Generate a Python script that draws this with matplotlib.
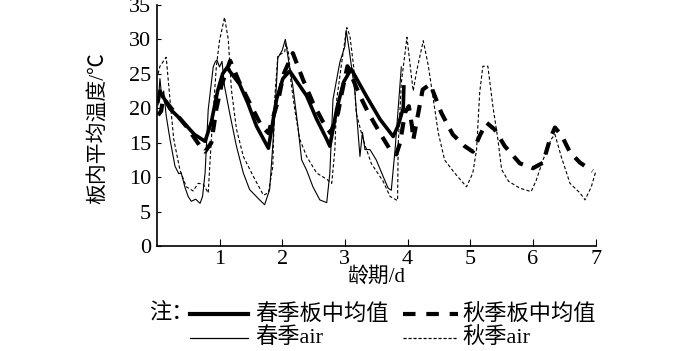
import matplotlib
matplotlib.use("Agg")
import matplotlib.pyplot as plt
from matplotlib.lines import Line2D

plt.rcParams['font.family'] = ['Liberation Serif', 'Noto Sans CJK SC']
plt.rcParams['axes.unicode_minus'] = False

# spring, plate mean (thick solid)
spring_mean_x = [0.02, 0.05, 0.21, 0.38, 0.6, 0.77, 0.87, 0.97, 1.05, 1.12, 1.32, 1.45, 1.59, 1.78,
                 1.91, 2.01, 2.12, 2.39, 2.55, 2.71, 2.76, 2.87, 2.98, 3.1, 3.34, 3.56, 3.77, 3.85, 3.93, 3.94]
spring_mean_y = [21.0, 22.5, 19.9, 18.4, 16.2, 15.2, 18.0, 22.5, 25.0, 25.9, 23.5, 20.8, 17.4, 14.2,
                 21.3, 24.3, 25.4, 21.8, 18.4, 15.5, 14.5, 19.9, 23.8, 25.7, 21.8, 18.4, 15.9, 17.5, 20.0, 23.1]

# autumn, plate mean (thick dashed)
autumn_mean_x = [0.02, 0.07, 0.1, 0.23, 0.47, 0.69, 0.77, 0.87, 0.95, 1.03, 1.17, 1.32, 1.48, 1.67, 1.78,
                 1.94, 2.02, 2.17, 2.33, 2.49, 2.64, 2.77, 2.89, 2.95, 3.04, 3.24, 3.37, 3.56, 3.72, 3.82,
                 3.88, 3.96, 4.02, 4.07, 4.09, 4.17, 4.24, 4.36, 4.54, 4.72, 4.91, 5.04, 5.16, 5.26, 5.39,
                 5.55, 5.79, 6.0, 6.16, 6.27, 6.35, 6.46, 6.59, 6.75, 6.95]
autumn_mean_y = [19.0, 19.6, 21.5, 20.0, 17.4, 14.5, 13.7, 15.0, 19.9, 23.3, 26.9, 23.7, 20.8, 17.4, 16.4,
                 21.3, 24.9, 28.0, 24.2, 20.8, 18.2, 16.4, 19.3, 22.2, 26.1, 21.8, 19.4, 16.4, 14.0, 13.3,
                 15.0, 19.4, 20.3, 17.4, 15.4, 19.3, 22.7, 23.5, 19.3, 16.2, 14.5, 13.7, 16.2, 17.9, 16.9,
                 14.5, 12.0, 11.3, 12.1, 15.5, 17.2, 16.0, 13.6, 12.1, 10.9]

# spring air (thin solid)
spring_air_x = [0.02, 0.05, 0.08, 0.11, 0.15, 0.21, 0.29, 0.35, 0.39, 0.45, 0.5, 0.55, 0.62, 0.69, 0.73,
                0.77, 0.82, 0.87, 0.9, 0.93, 0.96, 1.0, 1.04, 1.08, 1.16, 1.27, 1.38, 1.48, 1.64, 1.72,
                1.8, 1.85, 1.91, 1.93, 2.0, 2.05, 2.1, 2.17, 2.25, 2.31, 2.39, 2.49, 2.6, 2.71, 2.76,
                2.81, 2.92, 3.0, 3.02, 3.07, 3.16, 3.24, 3.28, 3.32, 3.4, 3.5, 3.61, 3.69, 3.74, 3.8,
                3.85, 3.9]
spring_air_y = [20.5, 24.3, 21.5, 22.5, 18.9, 15.5, 11.6, 10.5, 10.6, 8.5, 7.2, 6.5, 6.8, 6.2, 7.2,
                10.6, 19.8, 23.7, 26.0, 26.7, 27.0, 26.0, 26.8, 23.2, 19.4, 14.5, 10.6, 8.2, 6.7, 6.0,
                8.2, 14.6, 23.7, 27.3, 28.4, 30.0, 27.0, 23.2, 17.4, 12.5, 11.0, 8.6, 6.7, 6.3, 10.6,
                21.3, 26.7, 29.0, 31.3, 28.4, 22.3, 13.0, 16.5, 14.0, 14.0, 12.5, 10.1, 8.4, 8.1, 14.0,
                20.0, 26.0]

# autumn air (thin dashed)
autumn_air_x = [0.02, 0.05, 0.15, 0.21, 0.27, 0.37, 0.47, 0.58, 0.66, 0.74, 0.82, 0.87, 0.95, 1.0, 1.08,
                1.14, 1.19, 1.27, 1.38, 1.54, 1.7, 1.78, 1.85, 1.88, 1.93, 2.04, 2.06, 2.1, 2.14, 2.2,
                2.28, 2.39, 2.55, 2.71, 2.79, 2.84, 2.87, 2.95, 3.03, 3.08, 3.14, 3.18, 3.29, 3.42, 3.61,
                3.72, 3.84, 3.85, 3.9, 3.99, 4.06, 4.09, 4.14, 4.25, 4.33, 4.41, 4.49, 4.59, 4.75, 4.94,
                5.04, 5.1, 5.15, 5.2, 5.28, 5.36, 5.44, 5.5, 5.61, 5.79, 5.97, 6.05, 6.16, 6.29, 6.35,
                6.45, 6.59, 6.75, 6.83, 6.93, 7.0]
autumn_air_y = [25.0, 26.1, 27.4, 21.3, 15.5, 11.0, 8.6, 8.0, 9.1, 9.0, 7.7, 15.5, 26.1, 29.8, 33.2,
                30.0, 22.7, 17.0, 13.0, 10.1, 7.4, 7.7, 11.5, 21.3, 27.6, 28.2, 29.4, 28.0, 23.8, 19.8,
                15.5, 13.0, 10.6, 9.7, 9.1, 14.0, 21.3, 26.7, 31.7, 30.5, 26.0, 19.3, 15.5, 12.0, 9.4,
                7.2, 6.6, 14.7, 23.7, 30.3, 24.7, 22.5, 25.2, 29.8, 26.2, 21.3, 16.4, 12.5, 10.6, 8.6,
                10.6, 14.0, 22.3, 26.1, 26.1, 20.3, 15.5, 11.1, 9.4, 8.4, 7.9, 9.5, 12.5, 15.5, 16.2,
                13.0, 9.1, 7.7, 6.7, 8.6, 10.8]

x_ticks = [1, 2, 3, 4, 5, 6, 7]
y_ticks = [0, 5, 10, 15, 20, 25, 30, 35]

fig = plt.figure(figsize=(7.0, 3.51), dpi=100)
ax = fig.add_axes([0.224, 0.299, 0.627, 0.687])

ax.plot(spring_air_x, spring_air_y, color='black', lw=0.8)
ax.plot(autumn_air_x, autumn_air_y, color='black', lw=0.8, dashes=(3, 2))
ax.plot(spring_mean_x, spring_mean_y, color='black', lw=2.6)
ax.plot(autumn_mean_x, autumn_mean_y, color='black', lw=3.0, dashes=(3, 2.2))

ax.set_xlim(0, 7)
ax.set_ylim(0, 35)
ax.set_xticks(x_ticks)
ax.set_yticks(y_ticks)
ax.spines['top'].set_visible(False)
ax.spines['right'].set_visible(False)
ax.spines['left'].set_linewidth(1.2)
ax.spines['bottom'].set_linewidth(1.2)
ax.tick_params(axis='x', direction='in', length=5, labelsize=16, pad=3)
ax.tick_params(axis='y', direction='in', length=3, labelsize=16, pad=4)

ax.set_xlabel('龄期/d', fontsize=15, labelpad=-2)
ax.set_ylabel('板内平均温度/℃', fontsize=15)
ax.yaxis.set_label_coords(-0.11, 0.49)

# legend drawn by hand, two rows
tf = fig.transFigure
W, H = 700.0, 351.0
def row(y_px, x0, x1, tx, text, **kw):
    fig.add_artist(Line2D([x0 / W, x1 / W], [1 - y_px / H] * 2, transform=tf, color='black', **kw))
    fig.text(tx / W, 1 - y_px / H, text, fontsize=16, va='center', ha='left')

fig.text(149 / W, 1 - 314 / H, '注：', fontsize=16, va='center', ha='left')
row(314, 190, 248, 255, '春季板中均值', lw=3.0)
row(314, 403, 458, 462, '秋季板中均值', lw=3.0, dashes=(3, 2.6))
row(338, 190, 248, 255, '春季air', lw=0.9)
row(338, 403, 458, 462, '秋季air', lw=0.9, dashes=(2.5, 1.5))

fig.savefig('out.png', dpi=100)
